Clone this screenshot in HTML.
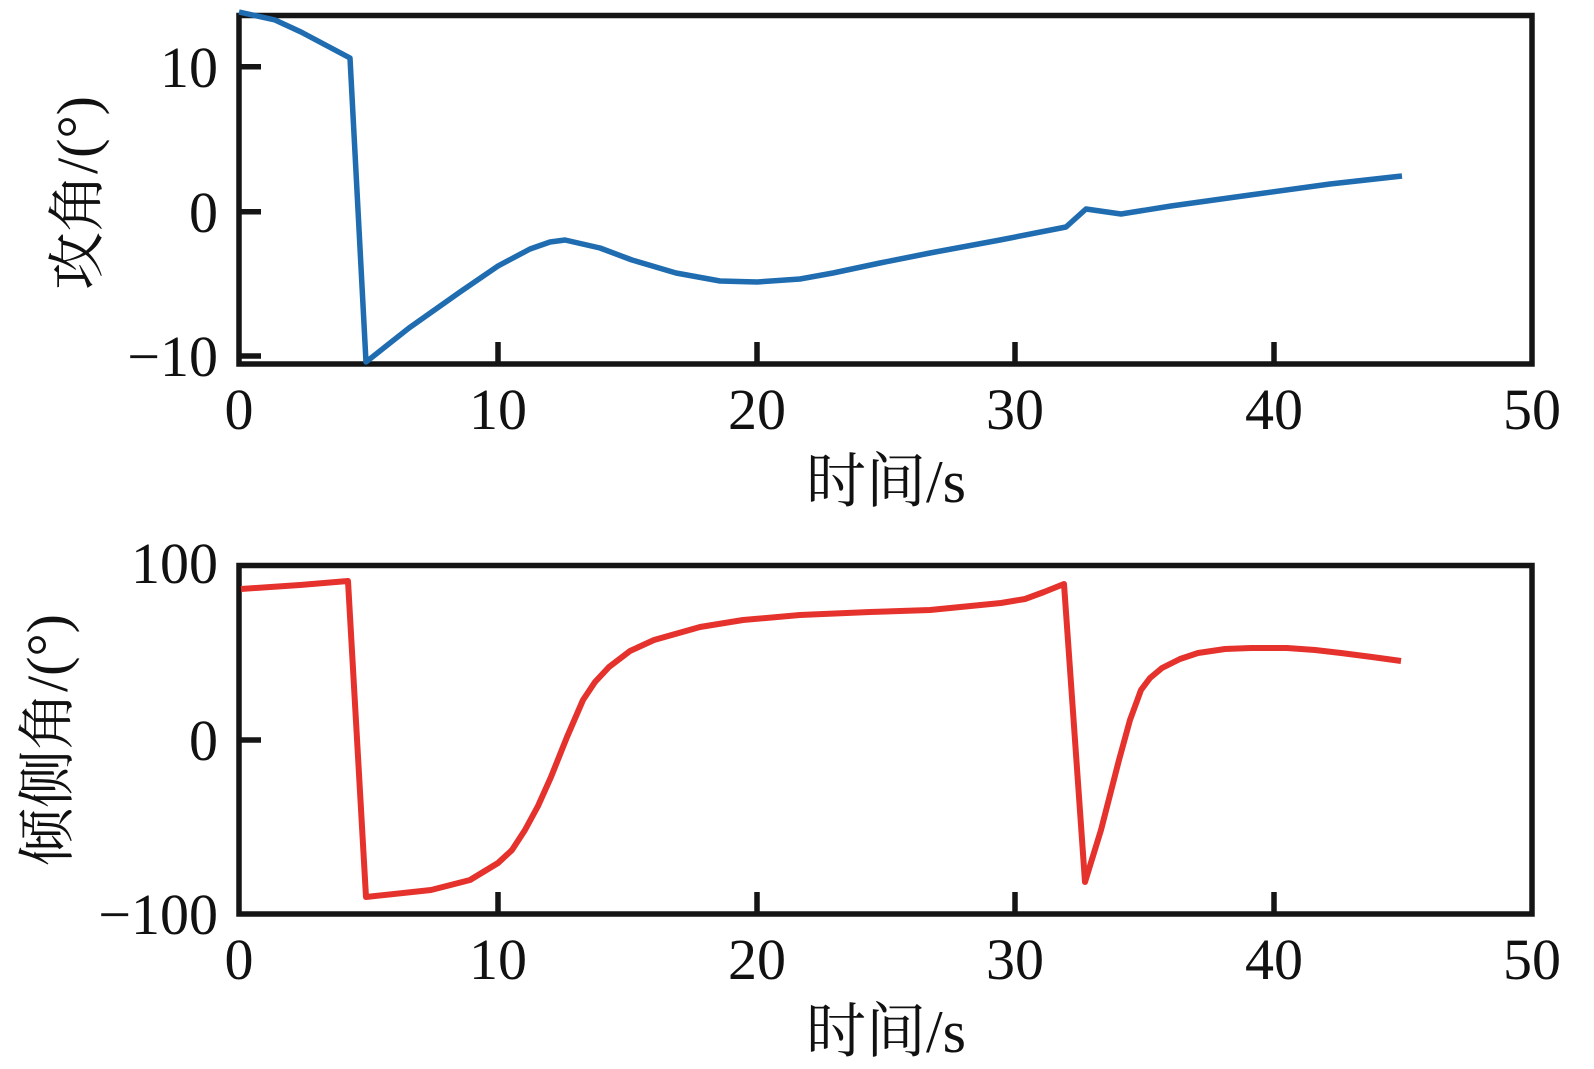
<!DOCTYPE html>
<html><head><meta charset="utf-8"><style>
html,body{margin:0;padding:0;background:#fff;}
svg{display:block;}
text{font-family:"Liberation Serif","Noto Serif CJK SC",serif;fill:#111;}
</style></head><body>
<svg width="1594" height="1069" viewBox="0 0 1594 1069" xmlns="http://www.w3.org/2000/svg">
<!-- TOP PLOT -->
<g stroke="#151515" stroke-width="5.5" fill="none">
<rect x="239" y="15.5" width="1293" height="348.5"/>
<line x1="239" y1="66.7" x2="261" y2="66.7"/>
<line x1="239" y1="211.7" x2="261" y2="211.7"/>
<line x1="239" y1="356" x2="261" y2="356"/>
<line x1="498" y1="364" x2="498" y2="342"/>
<line x1="757" y1="364" x2="757" y2="342"/>
<line x1="1015" y1="364" x2="1015" y2="342"/>
<line x1="1274" y1="364" x2="1274" y2="342"/>
</g>
<polyline fill="none" stroke="#1f6db0" stroke-width="5.5" stroke-linejoin="round" points="239,12 275,20 301,32 350,58 366,362 409,328 460,292 498,266 530,249 550,242 565,240 600,248 632,260 676,273 720,281 757,282 800,279 833,273 880,263 930,253 1000,240 1066,227 1086,209 1121,214 1171,206 1250,195 1330,184 1402,176"/>
<g font-size="58" text-anchor="end">
<text x="218" y="87">10</text>
<text x="218" y="232">0</text>
<text x="218" y="376">−10</text>
</g>
<g font-size="58" text-anchor="middle">
<text x="239" y="429">0</text>
<text x="498" y="429">10</text>
<text x="757" y="429">20</text>
<text x="1015" y="429">30</text>
<text x="1274" y="429">40</text>
<text x="1532" y="429">50</text>
<text x="886" y="502" font-size="60">时间/s</text>
<text transform="translate(97,193) rotate(-90)">攻角/(°)</text>
</g>
<!-- BOTTOM PLOT -->
<g stroke="#151515" stroke-width="5.5" fill="none">
<rect x="239" y="565.5" width="1293" height="348.5"/>
<line x1="239" y1="740" x2="261" y2="740"/>
<line x1="498" y1="914" x2="498" y2="892"/>
<line x1="757" y1="914" x2="757" y2="892"/>
<line x1="1015" y1="914" x2="1015" y2="892"/>
<line x1="1274" y1="914" x2="1274" y2="892"/>
</g>
<polyline fill="none" stroke="#e5322d" stroke-width="6" stroke-linejoin="round" points="241,589 300,585 348,581 366,897 431,890 470,880 498,863 512,850 525,830 538,806 551,777 567,737 583,700 595,682 609,667 630,651 654,640 700,627 743,620 800,615 870,612 930,610 1001,603 1025,599 1044,592 1064,584 1085,882 1101,830 1119,760 1130,720 1141,690 1150,678 1162,668 1180,659 1198,653 1225,649 1251,648 1287,648 1315,650 1341,653 1372,657 1401,661"/>
<g font-size="58" text-anchor="end">
<text x="218" y="583">100</text>
<text x="218" y="760">0</text>
<text x="218" y="934">−100</text>
</g>
<g font-size="58" text-anchor="middle">
<text x="239" y="979">0</text>
<text x="498" y="979">10</text>
<text x="757" y="979">20</text>
<text x="1015" y="979">30</text>
<text x="1274" y="979">40</text>
<text x="1532" y="979">50</text>
<text x="886" y="1052" font-size="60">时间/s</text>
<text transform="translate(67,740) rotate(-90)">倾侧角/(°)</text>
</g>
</svg>
</body></html>
